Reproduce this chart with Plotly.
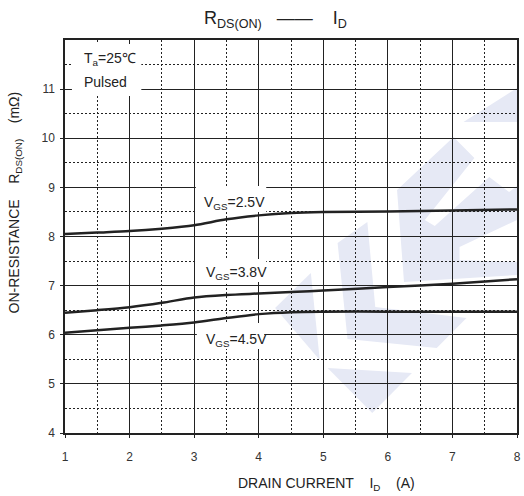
import plotly.graph_objects as go

# ---------------- data ----------------
id_a = [1, 1.5, 2, 2.5, 3, 3.5, 4, 4.5, 5, 6, 7, 8]
r_25 = [8.05, 8.08, 8.11, 8.16, 8.23, 8.35, 8.43, 8.48, 8.50, 8.51, 8.53, 8.55]
r_38 = [6.45, 6.50, 6.56, 6.65, 6.76, 6.81, 6.84, 6.87, 6.90, 6.97, 7.04, 7.13]
r_45 = [6.04, 6.09, 6.14, 6.19, 6.25, 6.34, 6.42, 6.46, 6.47, 6.47, 6.47, 6.47]
x_ticks = [1, 2, 3, 4, 5, 6, 7, 8]
y_ticks = [4, 5, 6, 7, 8, 9, 10, 11]
x_minor = [1.5, 2.5, 3.5, 4.5, 5.5, 6.5, 7.5]
y_minor = [4.5, 5.5, 6.5, 7.5, 8.5, 9.5, 10.5, 11.5]

FONT = "Liberation Sans, Arial, sans-serif"
INK = "#222222"
W, H = 524, 496
L, R, T, B = 65, 3, 40, 63
PW, PH = W - L - R, H - T - B
X0, X1, Y0, Y1 = 1, 8, 4, 12

fig = go.Figure()
for ys in (r_25, r_38, r_45):
    fig.add_trace(go.Scatter(x=id_a, y=ys, mode="lines",
                             line=dict(color=INK, width=2.5, shape="spline", smoothing=0.8),
                             showlegend=False, hoverinfo="skip"))

def px2paper(pts):
    return [((px - L) / PW, (H - B - py) / PH) for px, py in pts]

def path(pts):
    p = px2paper(pts)
    return "M " + " L ".join(f"{x:.4f},{y:.4f}" for x, y in p) + " Z"

def pxx(px):
    return X0 + (px - L) / PW * (X1 - X0)

def pxy(py):
    return Y0 + (H - B - py) / PH * (Y1 - Y0)

# faint watermark logo (decoration)
wm = [
    [(277, 308), (313, 273), (322, 360)],
    [(330, 368), (415, 373), (375, 413)],
    [(340, 243), (370, 222), (378, 307), (470, 318), (440, 348), (350, 339)],
    [(400, 190), (457, 137), (478, 158), (428, 220), (438, 226), (493, 177), (513, 192),
     (521, 186), (521, 220), (463, 247), (463, 260), (521, 262), (521, 275), (407, 282)],
    [(467, 122), (521, 88), (521, 122)],
]
shapes = [dict(type="path", path=path(p), xref="paper", yref="paper",
               fillcolor="#e6e9f5", line=dict(width=0), layer="below") for p in wm]

# white boxes behind labels (cover grid, under curves)
for x0, x1, y0, y1 in [(72, 142, 44, 96), (197, 268, 186, 212), (197, 268, 259, 282), (198, 266, 323, 349)]:
    shapes.append(dict(type="rect", xref="x", yref="y",
                       x0=pxx(x0), x1=pxx(x1), y0=pxy(y1), y1=pxy(y0),
                       fillcolor="white", line=dict(width=0), layer="between"))

def ann(text, px, py, size=14, xanchor="center", **kw):
    d = dict(text=text, xref="paper", yref="paper", x=(px - L) / PW, y=(H - B - py) / PH,
             xanchor=xanchor, yanchor="middle",
             showarrow=False, font=dict(family=FONT, size=size, color=INK))
    d.update(kw)
    return d

NB = "\u00a0"
annotations = [
    ann("R<sub>DS(ON)</sub>" + NB * 3 + "——" + NB * 4 + "I<sub>D</sub>", 277, 20, size=18),
    ann("DRAIN CURRENT" + NB * 4 + "I<sub>D</sub>" + NB * 4 + "(A)", 329, 484, size=14),
    ann("ON-RESISTANCE" + NB * 4 + "R<sub>DS(ON)</sub>" + NB * 4 + "(mΩ)", 15, 202, size=14, textangle=-90),
    ann("T<sub>a</sub>=25℃", 82, 59, size=14, xanchor="left"),
    ann("Pulsed", 82, 82, size=14, xanchor="left"),
    ann("V<sub>GS</sub>=2.5V", 203, 203, size=14, xanchor="left"),
    ann("V<sub>GS</sub>=3.8V", 205, 273, size=14, xanchor="left"),
    ann("V<sub>GS</sub>=4.5V", 205, 340, size=14, xanchor="left"),
]

axis_common = dict(showgrid=True, gridcolor=INK, gridwidth=1.3,
                   showline=True, mirror=True, linecolor=INK, linewidth=1.5,
                   ticks="outside", ticklen=3, tickcolor=INK, zeroline=False,
                   tickfont=dict(family=FONT, size=12, color="#333333"))

fig.update_layout(
    width=W, height=H, margin=dict(l=L, r=R, t=T, b=B),
    paper_bgcolor="white", plot_bgcolor="white",
    shapes=shapes, annotations=annotations, showlegend=False,
    xaxis=dict(range=[X0, X1], tickmode="array", tickvals=x_ticks, ticklabelstandoff=9,
               minor=dict(tickmode="array", tickvals=x_minor, showgrid=True, gridcolor=INK,
                          griddash="1.5px,2.5px", gridwidth=1.3, ticks=""),
               **axis_common),
    yaxis=dict(range=[Y0, Y1], tickmode="array", tickvals=y_ticks, ticklabelstandoff=3,
               minor=dict(tickmode="array", tickvals=y_minor, showgrid=True, gridcolor=INK,
                          griddash="1.5px,2.5px", gridwidth=1.3, ticks=""),
               **axis_common),
)

fig.write_html("out.html")
